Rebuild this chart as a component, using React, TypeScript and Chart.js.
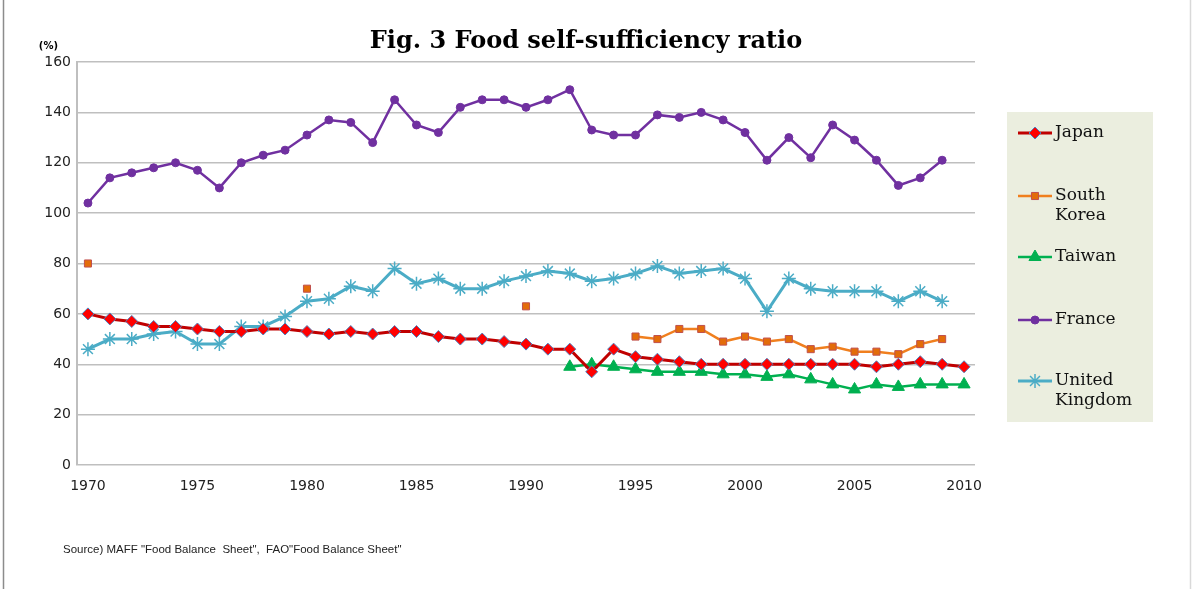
import React, { useEffect, useRef } from "react";
import { Chart, registerables } from "chart.js";
import { drawPoint } from "chart.js/helpers";

Chart.register(...registerables);

const years: string[] = [];
for (let y = 1970; y <= 2010; y++) years.push(String(y));

const xTickLabels = ["1970", "1975", "1980", "1985", "1990", "1995", "2000", "2005", "2010"];
const yTicks = [0, 20, 40, 60, 80, 100, 120, 140, 160];

const japan = [60, 58, 57, 55, 55, 54, 53, 53, 54, 54, 53, 52, 53, 52, 53, 53, 51, 50, 50, 49, 48, 46, 46, 37, 46, 43, 42, 41, 40, 40, 40, 40, 40, 40, 40, 40, 39, 40, 41, 40, 39];
const southKorea = [80, null, null, null, null, null, null, null, null, null, 70, null, null, null, null, null, null, null, null, null, 63, null, null, null, null, 51, 50, 54, 54, 49, 51, 49, 50, 46, 47, 45, 45, 44, 48, 50, null];
const taiwan = [null, null, null, null, null, null, null, null, null, null, null, null, null, null, null, null, null, null, null, null, null, null, 39, 40, 39, 38, 37, 37, 37, 36, 36, 35, 36, 34, 32, 30, 32, 31, 32, 32, 32];
const france = [104, 114, 116, 118, 120, 117, 110, 120, 123, 125, 131, 137, 136, 128, 145, 135, 132, 142, 145, 145, 142, 145, 149, 133, 131, 131, 139, 138, 140, 137, 132, 121, 130, 122, 135, 129, 121, 111, 114, 121, null];
const uk = [46, 50, 50, 52, 53, 48, 48, 55, 55, 59, 65, 66, 71, 69, 78, 72, 74, 70, 70, 73, 75, 77, 76, 73, 74, 76, 79, 76, 77, 78, 74, 61, 74, 70, 69, 69, 69, 65, 69, 65, null];

const titleText = "Fig. 3 Food self-sufficiency ratio";
const unitText = "(%)";
const sourceText = 'Source) MAFF "Food Balance  Sheet",  FAO"Food Balance Sheet"';
const legendLines: string[][] = [["Japan"], ["South", "Korea"], ["Taiwan"], ["France"], ["United", "Kingdom"]];

const decorPlugin = {
  id: "decor",
  afterDraw(chart: any) {
    const ctx = chart.ctx;
    const W = chart.width;
    const H = chart.height;
    ctx.save();
    // slide borders
    ctx.strokeStyle = "#8c8c8c";
    ctx.lineWidth = 1.5;
    ctx.beginPath();
    ctx.moveTo(3.5, 0);
    ctx.lineTo(3.5, H);
    ctx.stroke();
    ctx.strokeStyle = "#d9d9d9";
    ctx.beginPath();
    ctx.moveTo(W - 1.5, 0);
    ctx.lineTo(W - 1.5, H);
    ctx.stroke();

    // title
    ctx.fillStyle = "#000";
    ctx.font = "bold 24px 'DejaVu Serif'";
    ctx.textAlign = "center";
    ctx.textBaseline = "alphabetic";
    ctx.fillText(titleText, 586, 48);

    // unit
    ctx.font = "bold 10px 'DejaVu Sans'";
    ctx.textAlign = "right";
    ctx.fillText(unitText, 58, 49);

    // source
    ctx.font = "11.5px 'Liberation Sans'";
    ctx.textAlign = "left";
    ctx.fillStyle = "#222";
    ctx.fillText(sourceText, 63, 553);

    // legend
    const lx = 1007, ly = 112, lw = 146, lh = 310;
    ctx.fillStyle = "#EBEEDF";
    ctx.fillRect(lx, ly, lw, lh);
    const rowY = [133, 196, 257, 320, 381];
    chart.data.datasets.forEach((ds: any, i: number) => {
      const y = rowY[i];
      ctx.strokeStyle = ds.borderColor;
      ctx.lineWidth = ds.borderWidth;
      ctx.beginPath();
      ctx.moveTo(1018, y);
      ctx.lineTo(1052, y);
      ctx.stroke();
      ctx.fillStyle = ds.pointBackgroundColor;
      ctx.strokeStyle = ds.pointBorderColor;
      ctx.lineWidth = ds.pointBorderWidth;
      drawPoint(ctx, { pointStyle: ds.pointStyle, radius: ds.pointRadius, borderWidth: ds.pointBorderWidth, rotation: 0 }, 1035, y);
      ctx.fillStyle = "#111";
      ctx.font = "17px 'DejaVu Serif'";
      ctx.textAlign = "left";
      ctx.textBaseline = "middle";
      legendLines[i].forEach((t, k) => ctx.fillText(t, 1055, y + k * 20));
    });
    ctx.restore();
  },
};

export default function App() {
  const ref = useRef<HTMLCanvasElement | null>(null);
  useEffect(() => {
    if (!ref.current) return;
    const chart = new Chart(ref.current, {
      type: "line",
      data: {
        labels: years,
        datasets: [
          {
            label: "Japan",
            data: japan,
            borderColor: "#C00000",
            borderWidth: 3,
            pointStyle: "rectRot",
            pointRadius: 6,
            pointBackgroundColor: "#FF0000",
            pointBorderColor: "#4F81BD",
            pointBorderWidth: 1,
            spanGaps: false,
          },
          {
            label: "South Korea",
            data: southKorea,
            borderColor: "#F07F1E",
            borderWidth: 2.5,
            pointStyle: "rect",
            pointRadius: 5,
            pointBackgroundColor: "#E36C09",
            pointBorderColor: "#C0504D",
            pointBorderWidth: 1,
            spanGaps: false,
          },
          {
            label: "Taiwan",
            data: taiwan,
            borderColor: "#00B050",
            borderWidth: 2.5,
            pointStyle: "triangle",
            pointRadius: 7,
            pointBackgroundColor: "#00B050",
            pointBorderColor: "#00B050",
            pointBorderWidth: 1,
            spanGaps: false,
          },
          {
            label: "France",
            data: france,
            borderColor: "#7030A0",
            borderWidth: 2.5,
            pointStyle: "circle",
            pointRadius: 4,
            pointBackgroundColor: "#7030A0",
            pointBorderColor: "#7030A0",
            pointBorderWidth: 1,
            spanGaps: false,
          },
          {
            label: "United Kingdom",
            data: uk,
            borderColor: "#4BACC6",
            borderWidth: 3,
            pointStyle: "star",
            pointRadius: 7,
            pointBackgroundColor: "rgba(0,0,0,0)",
            pointBorderColor: "#4BACC6",
            pointBorderWidth: 1.5,
            spanGaps: false,
          },
        ] as any,
      },
      options: {
        animation: false,
        responsive: false,
        maintainAspectRatio: false,
        layout: { padding: { left: 0, right: 217, top: 62, bottom: 0 } },
        plugins: { legend: { display: false }, tooltip: { enabled: false }, title: { display: false } },
        elements: { line: { tension: 0 } },
        scales: {
          x: {
            type: "category",
            offset: true,
            grid: { display: false, drawTicks: false },
            border: { display: false },
            afterFit: (s: any) => { s.height = 124; },
            ticks: {
              autoSkip: false,
              maxRotation: 0,
              padding: 13,
              color: "#222",
              font: { family: "'DejaVu Sans'", size: 14 },
              callback: function (this: any, v: any) {
                const l = years[v as number];
                return xTickLabels.includes(l) ? l : "";
              },
            },
          },
          y: {
            min: 0,
            max: 160,
            afterFit: (s: any) => { s.width = 77; },
            afterBuildTicks: (s: any) => { s.ticks = yTicks.map((v) => ({ value: v })); },
            grid: { color: "#BFBFBF", lineWidth: 1.5, drawTicks: false },
            border: { color: "#BFBFBF", width: 2 },
            ticks: {
              padding: 6,
              color: "#222",
              font: { family: "'DejaVu Sans'", size: 14 },
            },
          },
        },
      },
      plugins: [decorPlugin],
    });
    return () => chart.destroy();
  }, []);
  return (
    <div style={{ position: "absolute", left: 0, top: 0, width: 1192, height: 589, background: "#fff" }}>
      <canvas ref={ref} width={1192} height={589} style={{ width: 1192, height: 589 }} />
    </div>
  );
}
